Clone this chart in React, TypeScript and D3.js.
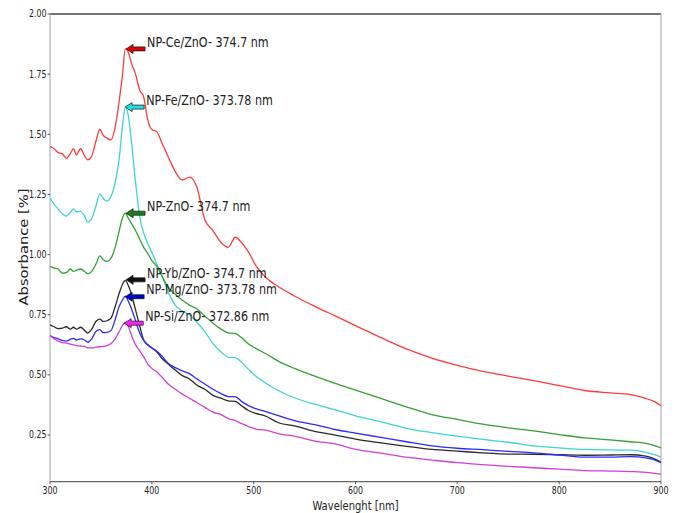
import React from "react";
import * as d3 from "d3";

const wavelengths = [300, 304, 308, 312, 316, 320, 323, 326, 330, 334, 337, 341, 345, 349, 352, 356, 360, 364, 368, 371, 374, 377, 380, 384, 388, 392, 396, 400, 405, 410, 416, 423, 430, 437, 444, 452, 460, 468, 475, 482, 488, 495, 502, 512, 525, 540, 560, 580, 600, 625, 650, 675, 700, 725, 750, 775, 800, 825, 850, 870, 885, 893, 900];

const ceValues = [1.449, 1.44, 1.424, 1.42, 1.40, 1.42, 1.44, 1.415, 1.44, 1.41, 1.394, 1.41, 1.47, 1.521, 1.497, 1.484, 1.477, 1.53, 1.64, 1.74, 1.855, 1.84, 1.795, 1.75, 1.684, 1.655, 1.56, 1.52, 1.51, 1.463, 1.407, 1.345, 1.31, 1.322, 1.283, 1.145, 1.10, 1.05, 1.03, 1.072, 1.05, 1.01, 0.955, 0.905, 0.865, 0.828, 0.785, 0.745, 0.705, 0.655, 0.608, 0.57, 0.54, 0.515, 0.495, 0.476, 0.455, 0.435, 0.425, 0.418, 0.402, 0.39, 0.372];

const feValues = [1.235, 1.21, 1.19, 1.17, 1.16, 1.175, 1.19, 1.178, 1.18, 1.16, 1.135, 1.15, 1.2, 1.252, 1.235, 1.222, 1.242, 1.3, 1.4, 1.53, 1.613, 1.575, 1.47, 1.30, 1.16, 1.09, 1.045, 1.01, 0.96, 0.91, 0.845, 0.79, 0.765, 0.75, 0.72, 0.68, 0.63, 0.595, 0.574, 0.572, 0.553, 0.523, 0.495, 0.465, 0.433, 0.405, 0.378, 0.355, 0.33, 0.305, 0.278, 0.26, 0.245, 0.232, 0.22, 0.205, 0.197, 0.19, 0.188, 0.187, 0.178, 0.17, 0.158];

const znoValues = [0.951, 0.944, 0.94, 0.923, 0.925, 0.94, 0.93, 0.935, 0.94, 0.93, 0.92, 0.93, 0.96, 0.995, 0.98, 0.972, 0.985, 1.03, 1.1, 1.15, 1.172, 1.15, 1.13, 1.1, 1.065, 1.03, 1.005, 0.975, 0.95, 0.91, 0.865, 0.835, 0.81, 0.79, 0.775, 0.745, 0.715, 0.69, 0.675, 0.672, 0.655, 0.628, 0.61, 0.588, 0.555, 0.527, 0.495, 0.465, 0.437, 0.402, 0.367, 0.335, 0.315, 0.295, 0.28, 0.267, 0.252, 0.238, 0.23, 0.222, 0.215, 0.207, 0.196];

const ybValues = [0.708, 0.70, 0.692, 0.694, 0.70, 0.69, 0.698, 0.69, 0.698, 0.685, 0.674, 0.69, 0.722, 0.732, 0.722, 0.725, 0.736, 0.784, 0.84, 0.875, 0.893, 0.87, 0.835, 0.77, 0.705, 0.645, 0.625, 0.612, 0.595, 0.568, 0.545, 0.52, 0.497, 0.483, 0.458, 0.44, 0.415, 0.403, 0.392, 0.39, 0.372, 0.352, 0.34, 0.328, 0.3, 0.288, 0.265, 0.25, 0.233, 0.217, 0.203, 0.19, 0.183, 0.176, 0.171, 0.17, 0.168, 0.166, 0.167, 0.168, 0.162, 0.152, 0.137];

const mgValues = [0.663, 0.655, 0.65, 0.643, 0.64, 0.648, 0.652, 0.645, 0.65, 0.645, 0.636, 0.65, 0.68, 0.688, 0.676, 0.677, 0.685, 0.73, 0.785, 0.81, 0.827, 0.805, 0.775, 0.725, 0.675, 0.643, 0.625, 0.612, 0.598, 0.578, 0.548, 0.53, 0.517, 0.505, 0.484, 0.462, 0.44, 0.422, 0.41, 0.41, 0.39, 0.372, 0.36, 0.347, 0.33, 0.31, 0.293, 0.273, 0.258, 0.24, 0.222, 0.205, 0.195, 0.189, 0.182, 0.176, 0.167, 0.158, 0.158, 0.16, 0.155, 0.148, 0.135];

const siValues = [0.663, 0.65, 0.64, 0.634, 0.632, 0.628, 0.625, 0.622, 0.62, 0.618, 0.612, 0.612, 0.615, 0.617, 0.618, 0.622, 0.63, 0.65, 0.68, 0.705, 0.717, 0.7, 0.665, 0.625, 0.6, 0.575, 0.545, 0.527, 0.512, 0.49, 0.462, 0.44, 0.42, 0.403, 0.385, 0.365, 0.345, 0.335, 0.318, 0.31, 0.298, 0.285, 0.275, 0.27, 0.255, 0.245, 0.225, 0.213, 0.19, 0.175, 0.158, 0.146, 0.135, 0.127, 0.12, 0.114, 0.108, 0.102, 0.1, 0.098, 0.095, 0.091, 0.087];

const seriesNames = ["NP-Ce/ZnO", "NP-Fe/ZnO", "NP-ZnO", "NP-Yb/ZnO", "NP-Mg/ZnO", "NP-Si/ZnO"];
const seriesValues = [ceValues, feValues, znoValues, ybValues, mgValues, siValues];
const lineColors = ["#ff3b3b", "#3fd3d0", "#33a033", "#2a2a2a", "#2b2bff", "#d23fd2"];
const arrowColors = ["#e00000", "#1fe0e0", "#1a7f1a", "#111111", "#0000d0", "#ff20ff"];

const peakLabels = ["NP-Ce/ZnO- 374.7 nm", "NP-Fe/ZnO- 373.78 nm", "NP-ZnO- 374.7 nm", "NP-Yb/ZnO- 374.7 nm", "NP-Mg/ZnO- 373.78 nm", "NP-Si/ZnO- 372.86 nm"];
const peakNm = [374.7, 373.78, 374.7, 374.7, 373.78, 372.86];
const peakAbs = [1.855, 1.613, 1.172, 0.895, 0.825, 0.715];

const xTicks = [300, 400, 500, 600, 700, 800, 900];
const yTicks = [0.25, 0.5, 0.75, 1.0, 1.25, 1.5, 1.75, 2.0];

const W = 674;
const H = 513;
const M = { left: 50, right: 661, top: 14, bottom: 481.7 };
const FONT = "DejaVu Sans, Verdana, sans-serif";
const SX = 0.8;

function HText(props: any) {
  const { x, y, anchor = "start", size = 10, fill = "#222", children, baseline } = props;
  return (
    <text
      transform={`translate(${x},${y}) scale(${SX},1)`}
      textAnchor={anchor}
      fontSize={size}
      fill={fill}
      fontFamily={FONT}
      dominantBaseline={baseline}
    >
      {children}
    </text>
  );
}

export default function App() {
  const x = d3.scaleLinear().domain([300, 900]).range([M.left, M.right]);
  const y = d3.scaleLinear().domain([0.056, 2.0]).range([M.bottom, M.top]);

  const line = d3
    .line<number>()
    .x((_, i) => x(wavelengths[i]))
    .y((d) => y(d))
    .curve(d3.curveMonotoneX);

  const arrowPath = (tx: number, ty: number) => {
    const L = 19, hl = 7, hw = 4.5, sw = 2;
    return `M${tx},${ty} L${tx + hl},${ty - hw} L${tx + hl},${ty - sw} L${tx + L},${ty - sw} L${tx + L},${ty + sw} L${tx + hl},${ty + sw} L${tx + hl},${ty + hw} Z`;
  };

  return (
    <svg width={W} height={H} style={{ position: "absolute", left: 0, top: 0, background: "#fff" }}>
      <rect x={0} y={0} width={W} height={H} fill="#fff" />
      <defs>
        <clipPath id="plotclip">
          <rect x={M.left} y={M.top} width={M.right - M.left} height={M.bottom - M.top} />
        </clipPath>
      </defs>

      {/* spines */}
      <line x1={M.left} x2={M.right} y1={M.top} y2={M.top} stroke="#444" strokeWidth={1.3} />
      <line x1={M.right} x2={M.right} y1={M.top} y2={M.bottom} stroke="#b8b8b8" strokeWidth={1.3} />
      <line x1={M.left} x2={M.left} y1={M.top} y2={M.bottom} stroke="#b8b8b8" strokeWidth={1.3} />
      <line x1={M.left} x2={M.right} y1={M.bottom} y2={M.bottom} stroke="#666" strokeWidth={1.3} />

      {/* y ticks */}
      {yTicks.map((t) => (
        <g key={"y" + t}>
          <line x1={M.left - 2.5} x2={M.left} y1={y(t)} y2={y(t)} stroke="#555" strokeWidth={1} />
          <HText x={M.left - 3.5} y={y(t) + 3.4} anchor="end" size={9.8}>
            {d3.format(".2f")(t)}
          </HText>
        </g>
      ))}

      {/* x ticks */}
      {xTicks.map((t) => (
        <g key={"x" + t}>
          <line x1={x(t)} x2={x(t)} y1={M.bottom} y2={M.bottom + 2.5} stroke="#555" strokeWidth={1} />
          <HText x={x(t)} y={M.bottom + 12} anchor="middle" size={9.8}>
            {t}
          </HText>
        </g>
      ))}

      {/* axis labels */}
      <HText x={(M.left + M.right) / 2} y={510} anchor="middle" size={12.5}>
        Wavelenght [nm]
      </HText>
      <text
        transform={`translate(27.5,247) rotate(-90) scale(1,${SX})`}
        textAnchor="middle"
        fontSize={14.7}
        fill="#222"
        fontFamily={FONT}
      >
        Absorbance [%]
      </text>

      {/* lines */}
      <g clipPath="url(#plotclip)">
        {seriesValues.map((vals, i) => (
          <path key={seriesNames[i]} d={line(vals) || ""} fill="none" stroke={lineColors[i]} strokeWidth={1.3} />
        ))}
      </g>

      {/* annotations */}
      {peakLabels.map((lab, i) => {
        const tx = x(peakNm[i]);
        const ty = y(peakAbs[i]);
        return (
          <g key={lab}>
            <path d={arrowPath(tx, ty)} fill={arrowColors[i]} stroke="#111" strokeWidth={0.7} strokeLinejoin="miter" />
            <HText x={tx + 21} y={ty - 2.2} size={13.9}>
              {lab}
            </HText>
          </g>
        );
      })}
    </svg>
  );
}
